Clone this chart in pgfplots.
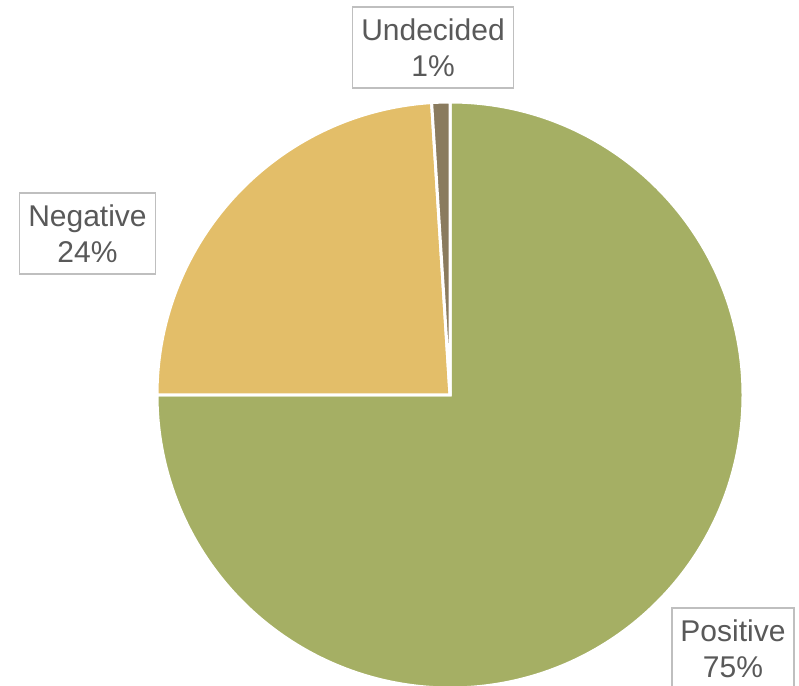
\documentclass[border=0pt]{standalone}
\usepackage{fontspec}
\setmainfont{Liberation Sans}
\usepackage{pgfplots}
\pgfplotsset{compat=1.18}
\usepackage{pgfplotstable}
\definecolor{cpos}{HTML}{A5AF64}
\definecolor{cneg}{HTML}{E3BE69}
\definecolor{cund}{HTML}{8A7B5E}
\definecolor{boxgray}{HTML}{BFBFBF}
\definecolor{txtgray}{HTML}{595959}

% share of each answer, in percent
\pgfplotstableread{
label value
Positive 75
Negative 24
Undecided 1
}\piedata
\pgfplotstablegetelem{0}{value}\of\piedata\let\vpos\pgfplotsretval
\pgfplotstablegetelem{1}{value}\of\piedata\let\vneg\pgfplotsretval
\pgfplotstablegetelem{2}{value}\of\piedata\let\vund\pgfplotsretval
% clockwise from 12 o'clock
\pgfmathsetmacro\aA{90}
\pgfmathsetmacro\aB{\aA-3.6*\vpos}
\pgfmathsetmacro\aC{\aB-3.6*\vneg}
\pgfmathsetmacro\aD{\aC-3.6*\vund}
\def\rad{219.75pt}
\newcommand\pct[1]{\pgfmathprintnumber[assume math mode=true]{#1}\%}

\tikzset{lbl/.style={draw=boxgray, line width=1.3pt, fill=white, text=txtgray,
    align=center, font=\fontsize{22.5}{27}\selectfont,
    inner xsep=6.5pt, minimum height=60.75pt}}

\begin{document}
\begin{tikzpicture}
\begin{axis}[
  scale only axis, width=599.25pt, height=513.75pt,
  xmin=0, xmax=799, ymin=0, ymax=685,
  hide axis,
]
\fill[cpos, draw=white, line width=2.25pt] (axis cs:450,290) -- ++(\aA:\rad)
  arc[start angle=\aA, end angle=\aB, radius=\rad] -- cycle;
\fill[cneg, draw=white, line width=2.25pt] (axis cs:450,290) -- ++(\aB:\rad)
  arc[start angle=\aB, end angle=\aC, radius=\rad] -- cycle;
\fill[cund, draw=white, line width=2.25pt] (axis cs:450,290) -- ++(\aC:\rad)
  arc[start angle=\aC, end angle=\aD, radius=\rad] -- cycle;

\node[lbl] at (axis cs:433,637.5) {Undecided\\\pct{\vund}};
\node[lbl] at (axis cs:87.5,451.5) {Negative\\\pct{\vneg}};
\node[lbl] at (axis cs:733,36.5) {Positive\\\pct{\vpos}};
\end{axis}
\pgfresetboundingbox
\useasboundingbox (current axis.south west) rectangle (current axis.north east);
\end{tikzpicture}
\end{document}
